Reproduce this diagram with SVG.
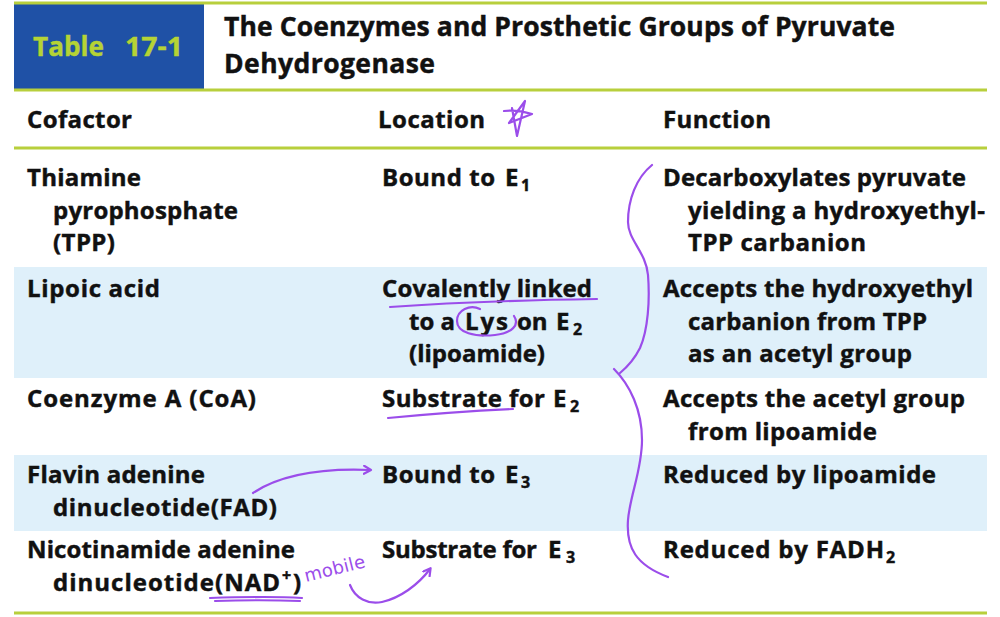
<svg xmlns="http://www.w3.org/2000/svg" width="1000" height="617" viewBox="0 0 1000 617">
<style>
.t{font-family:"Open Sans","Noto Sans","Liberation Sans",sans-serif;font-weight:bold;font-size:24px;fill:#111;stroke:#111;stroke-width:0.45}
.h{font-size:26.5px}
.s{font-size:16px}
.g{stroke:#b8cf3c;stroke-width:3;fill:none}
.band{fill:#dff0fa}
.pen{fill:none;stroke:#9b4dea;stroke-width:2.2;stroke-linecap:round;stroke-linejoin:round}
.tb{font-family:"Open Sans","Liberation Sans",sans-serif;font-weight:bold;font-size:26px;fill:#b5d335;stroke:#b5d335;stroke-width:0.4}
</style>
<defs>
<marker id="ah" markerWidth="10" markerHeight="10" refX="7" refY="5" orient="auto" markerUnits="userSpaceOnUse">
<path d="M1,1 L8,5 L1,9" fill="none" stroke="#9b4dea" stroke-width="2.2" stroke-linecap="round" stroke-linejoin="round"/>
</marker>
</defs>
<rect width="1000" height="617" fill="#fff"/>
<g id="header">
<rect x="14" y="4" width="190" height="86" fill="#1f51a6"/>
<text class="tb" x="33" y="56" textLength="71" lengthAdjust="spacingAndGlyphs">Table</text>
<text class="tb" x="125" y="56" textLength="58" lengthAdjust="spacingAndGlyphs">17-1</text>
<text class="t h" x="224" y="36" textLength="671">The Coenzymes and Prosthetic Groups of Pyruvate</text>
<text class="t h" x="224" y="73" textLength="211">Dehydrogenase</text>
</g>
<g id="bands">
<rect class="band" x="14" y="267" width="973" height="111"/>
<rect class="band" x="14" y="455" width="973" height="76"/>
</g>
<g id="rules">
<line class="g" x1="14" y1="3" x2="987" y2="3"/>
<line class="g" x1="14" y1="90" x2="987" y2="90"/>
<line class="g" x1="14" y1="148" x2="987" y2="148"/>
<line class="g" x1="14" y1="613" x2="987" y2="613"/>
</g>
<g id="colheads">
<text class="t" x="27" y="128" textLength="105">Cofactor</text>
<text class="t" x="378" y="128" textLength="107">Location</text>
<text class="t" x="663" y="128" textLength="108">Function</text>
</g>
<g id="row1">
<text class="t" x="27" y="186" textLength="114">Thiamine</text>
<text class="t" x="53" y="219" textLength="185">pyrophosphate</text>
<text class="t" x="53" y="251" textLength="62">(TPP)</text>
<text class="t" y="186"><tspan x="382" textLength="113">Bound to</tspan><tspan x="505">E</tspan><tspan class="s" x="521" dy="5">1</tspan></text>
<text class="t" x="663" y="186" textLength="303">Decarboxylates pyruvate</text>
<text class="t" x="688" y="219" textLength="297">yielding  a hydroxyethyl-</text>
<text class="t" x="688" y="251" textLength="178">TPP  carbanion</text>
</g>
<g id="row2">
<text class="t" x="27" y="297" textLength="133">Lipoic  acid</text>
<text class="t" x="382" y="297" textLength="210">Covalently linked</text>
<text class="t" y="330"><tspan x="409">to a</tspan><tspan x="465" textLength="43">Lys</tspan><tspan x="517">on</tspan><tspan x="556">E</tspan><tspan class="s" x="573" dy="5">2</tspan></text>
<text class="t" x="409" y="362" textLength="136">(lipoamide)</text>
<text class="t" x="663" y="297" textLength="310">Accepts the hydroxyethyl</text>
<text class="t" x="688" y="330" textLength="239">carbanion from TPP</text>
<text class="t" x="688" y="362" textLength="224">as an acetyl group</text>
</g>
<g id="row3">
<text class="t" x="27" y="407" textLength="229">Coenzyme A  (CoA)</text>
<text class="t" y="407"><tspan x="382" textLength="163">Substrate for</tspan><tspan x="553">E</tspan><tspan class="s" x="570" dy="5">2</tspan></text>
<text class="t" x="663" y="407" textLength="302">Accepts the acetyl group</text>
<text class="t" x="688" y="440" textLength="189">from lipoamide</text>
</g>
<g id="row4">
<text class="t" x="27" y="483" textLength="178">Flavin adenine</text>
<text class="t" x="53" y="516" textLength="224">dinucleotide(FAD)</text>
<text class="t" y="483"><tspan x="382" textLength="113">Bound to</tspan><tspan x="505">E</tspan><tspan class="s" x="521" dy="5">3</tspan></text>
<text class="t" x="663" y="483" textLength="273">Reduced by lipoamide</text>
</g>
<g id="row5">
<text class="t" x="27" y="558" textLength="268">Nicotinamide adenine</text>
<text class="t" y="591"><tspan x="53" textLength="227">dinucleotide(NAD</tspan><tspan class="s" x="282" dy="-10">+</tspan><tspan x="293" dy="10">)</tspan></text>
<text class="t" y="558"><tspan x="382" textLength="155">Substrate for</tspan><tspan x="548">E</tspan><tspan class="s" x="566" dy="5">3</tspan></text>
<text class="t" y="558"><tspan x="663" textLength="221">Reduced by FADH</tspan><tspan class="s" x="886" dy="5">2</tspan></text>
</g>
<g id="annotations">
<path class="pen" d="M504,111 C512,110 522,111 532,114 L509,123 L525,101 L517,136 L512,108"/>
<path class="pen" d="M652,165 C636,178 628,200 628,222 C628,240 646,252 648,275 C650,300 648,330 640,348 C634,360 626,368 620,373"/>
<path class="pen" d="M614,369 C630,385 642,410 642,440 C642,470 630,495 628,520 C626,548 636,565 668,577"/>
<path class="pen" d="M390,307 C460,302 530,300 597,299"/>
<path class="pen" d="M480,309 C470,304 457,310 457,321 C457,333 475,337 495,335 C512,333 520,325 514,316"/>
<path class="pen" d="M388,418 C430,414 470,411 513,409"/>
<path class="pen" d="M253,493 C280,475 320,468 370,470" marker-end="url(#ah)"/>
<path class="pen" d="M210,598 C240,597 270,596 302,598 M215,601 C245,600 275,600 300,601"/>
<path class="pen" d="M350,585 C355,598 368,605 382,602 C400,598 418,585 430,569" marker-end="url(#ah)"/>
<text x="306" y="582" transform="rotate(-14 306 582)" textLength="62" style="font-family:'DejaVu Sans',sans-serif;font-size:18px;fill:#9b4dea">mobile</text>
</g>
</svg>
